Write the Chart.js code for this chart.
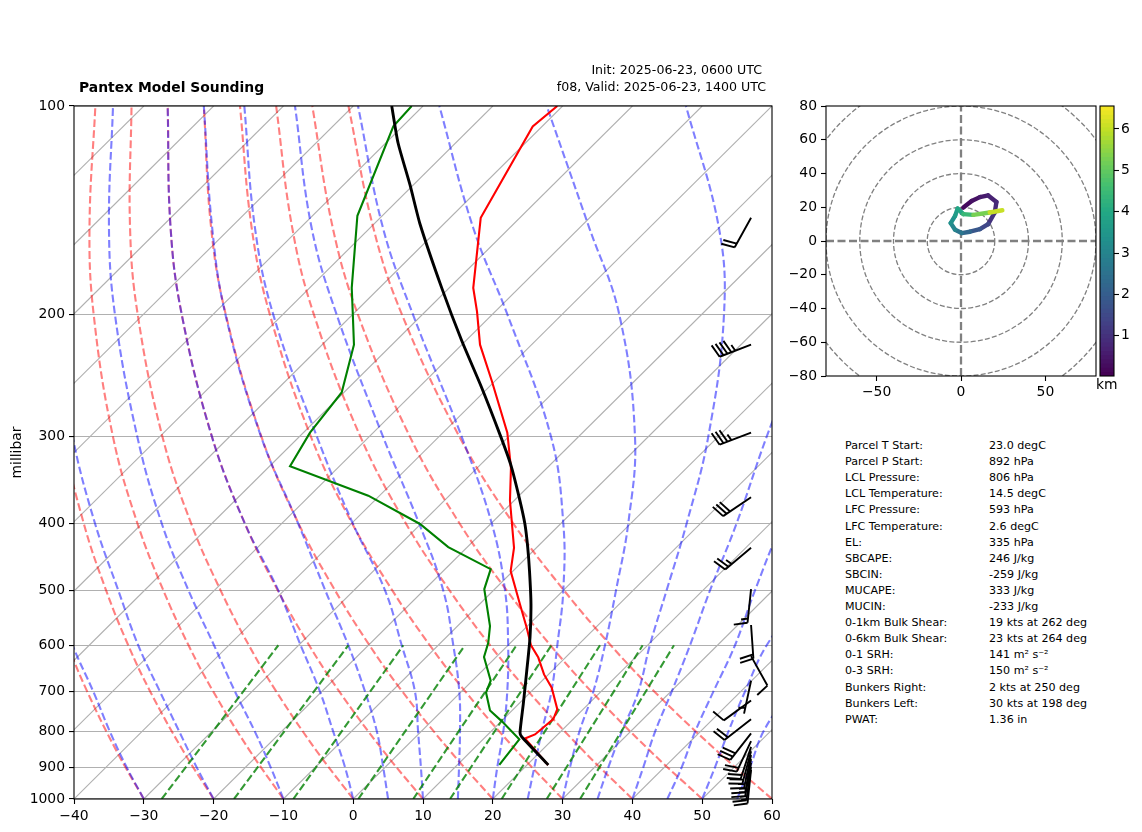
<!DOCTYPE html>
<html>
<head>
<meta charset="utf-8">
<title>Pantex Model Sounding</title>
<script src="https://cdn.jsdelivr.net/npm/chart.js@4/dist/chart.umd.min.js"></script>
<style>
  html, body { margin: 0; padding: 0; background: #fff; overflow: hidden; }
  body { width: 1142px; height: 832px; position: relative; font-family: "DejaVu Sans", sans-serif; color: #000; }
  canvas { position: absolute; }
  .txt { position: absolute; white-space: nowrap; line-height: 1; }
  #title { left: 79px; top: 81px; font-size: 13.9px; font-weight: bold; }
  #init { right: 380px; top: 64px; font-size: 12.6px; }
  #valid { right: 376px; top: 81px; font-size: 12.6px; }
  #km { left: 1096px; top: 378px; font-size: 13.9px; }
  .stat { font-size: 11.1px; }
</style>
</head>
<body>
<canvas id="skew" width="790" height="832" style="left:0;top:0"></canvas>
<canvas id="hodo" width="312" height="420" style="left:790px;top:0"></canvas>
<canvas id="cbar" width="47" height="420" style="left:1095px;top:0"></canvas>
<div class="txt" id="title">Pantex Model Sounding</div>
<div class="txt" id="init">Init: 2025-06-23, 0600 UTC</div>
<div class="txt" id="valid">f08, Valid: 2025-06-23, 1400 UTC</div>
<div class="txt" id="km">km</div>
<script>
// Axis ticks
const tempTicks = [-40, -30, -20, -10, 0, 10, 20, 30, 40, 50, 60];
const pressureTicks = [100, 200, 300, 400, 500, 600, 700, 800, 900, 1000];
const hodoXTicks = [-50, 0, 50];
const hodoYTicks = [-80, -60, -40, -20, 0, 20, 40, 60, 80];
const hodoRings = [20, 40, 60, 80, 100];
const cbarTicks = [1, 2, 3, 4, 5, 6];

const parcelP = [893, 813, 802, 729, 654, 585, 523, 469, 433, 401, 368, 329, 298, 255, 218, 183, 148, 130, 113, 100];
const parcelX = [27.95, 24.14, 23.9, 24.37, 24.86, 25.33, 25.47, 25.26, 25.0, 24.6, 23.8, 22.56, 21.03, 18.41, 15.54, 12.68, 9.57, 8.14, 6.42, 5.52];
const tempP = [893, 818, 807, 767, 742, 691, 661, 625, 600, 566, 524, 469, 434, 371, 333, 296, 249, 221, 198, 183, 145, 107, 100];
const tempX = [27.91, 24.61, 26.05, 28.67, 29.24, 28.44, 27.34, 26.52, 25.47, 24.86, 23.9, 22.56, 23.04, 22.46, 22.6, 22.08, 19.84, 18.17, 17.74, 17.2, 18.27, 25.72, 29.24];
const dewP = [893, 820, 772, 745, 702, 675, 624, 595, 563, 498, 466, 433, 401, 365, 331, 296, 259, 221, 198, 183, 144, 107, 100];
const dewX = [20.93, 23.8, 21.27, 19.6, 19.03, 19.7, 18.74, 19.35, 19.6, 18.78, 19.7, 13.62, 9.57, 2.16, -9.05, -6.19, -1.65, 0.11, -0.07, -0.21, 0.6, 5.75, 8.38];

// Isotherms, named by their temperature at 1000 hPa
const isothermBase = [-130, -120, -110, -100, -90, -80, -70, -60, -50, -40, -30, -20, -10, 0, 10, 20, 30, 40, 50];
const isothermShift = 100; // x axis degrees gained from 1000 to 100 hPa

// Dry adiabats
const dryLevels = [1000, 850, 700, 600, 500, 400, 300, 200, 150, 100];
const dryM30 = [-30, -33.98, -38.1, -40.87, -43.6, -46.3, -48.6, -49.8, -49.4, -47.3];
const dryM20 = [-20, -24.43, -29.07, -32.23, -35.4, -38.61, -41.51, -43.49, -43.59, -42.12];
const dryM10 = [-10, -14.88, -20.04, -23.59, -27.2, -30.92, -34.42, -37.18, -37.78, -36.94];
const dry0 = [0, -5.33, -11.01, -14.95, -19, -23.23, -27.33, -30.87, -31.97, -31.76];
const dry10 = [10, 4.22, -1.98, -6.31, -10.8, -15.54, -20.24, -24.56, -26.16, -26.58];
const dry20 = [20, 13.77, 7.05, 2.33, -2.6, -7.85, -13.15, -18.25, -20.35, -21.4];
const dry30 = [30, 23.32, 16.08, 10.97, 5.6, -0.16, -6.06, -11.94, -14.54, -16.22];
const dry40 = [40, 32.87, 25.11, 19.61, 13.8, 7.53, 1.03, -5.63, -8.73, -11.04];
const dry50 = [50, 42.42, 34.14, 28.25, 22, 15.22, 8.12, 0.68, -2.92, -5.86];
const dry60 = [60, 51.97, 43.17, 36.89, 30.2, 22.91, 15.21, 6.99, 2.89, -0.68];
const dryLines = [dryM30, dryM20, dryM10, dry0, dry10, dry20, dry30, dry40, dry50, dry60];

// Moist adiabats
const moistLevels = [1000, 900, 800, 700, 600, 500, 400, 300, 200, 150, 100];
const moistM30 = [-30, -32.45, -34.84, -37.23, -40.2, -43];
const moistM20 = [-20, -22.43, -24.9, -27.68, -30.8, -33.65, -37, -40.2, -43];
const moistM10 = [-10, -11.82, -14.07, -16.93, -19.94, -23.6, -27.44, -30.93, -34.13, -34.99, -34.41];
const moist0 = [0, -1.17, -2.85, -4.76, -7.53, -10.73, -15.54, -20.24, -24.56, -26.16, -26.58];
const moist5 = [5, 4.3, 3.4, 1.7, -0.7, -4, -7.9, -13.2, -18.3, -20.2, -21.4];
const moist10 = [10, 9.7, 9.3, 8.85, 6.95, 4.56, -0.07, -5.2, -11.45, -14.07, -15.6];
const moist15 = [15, 15.16, 15.3, 15.2, 14.34, 12.9, 9.43, 4.27, -2.37, -5.95, -8.34];
const moist20 = [20, 20.64, 21.5, 22.07, 22.2, 21.75, 19.84, 15.54, 8.57, 4.27, 0.69];
const moist25 = [25, 25.95, 27, 28.4, 29.24, 30.1, 30.1, 28.34, 22.1, 17.2, 12.34];
const moist30 = [30, 31.06, 32.4, 34.4, 36.07, 37.65, 39.41, 40.37, 38.12, 33.83, 27.72];
const moist35 = [35, 36.55, 38.47, 40.85, 42.5, 44.9, 47.78, 50.87, 53.12, 52.4, 47.68];
const moist40 = [40, 41.56, 43.24, 45.63, 48.25, 51.12, 54.94, 59.24, 66];
const moist45 = [45, 47.06, 48.97, 51.6, 54.7, 57.56, 61.5, 68];
const moist50 = [50, 51.83, 53.74, 56.13, 59.24, 65];
const moist55 = [55, 56.85, 58.75, 62.5];
const moistLines = [moistM30, moistM20, moistM10, moist0, moist5, moist10, moist15, moist20, moist25, moist30, moist35, moist40, moist45, moist50, moist55];

// Mixing ratio lines, from 1000 hPa up to 600 hPa
const mixBottom = [-27.44, -17.08, -8.58, 0.73, 8.6, 13.87, 21.27, 27.72, 32.5];
const mixTop = [-10.73, -0.7, 7.18, 16, 23.4, 28.4, 35.36, 41.47, 45.96];

// Wind barbs
const barbColumn = 57;
const barbP = [145, 221, 296, 367, 434, 498, 561, 622, 675, 721, 767, 804, 825, 841, 853, 864, 876, 887, 899, 908];
const barbSpeed = [20, 45, 35, 30, 25, 15, 20, 10, 5, 10, 20, 30, 20, 20, 20, 15, 15, 15, 15, 15];
const barbDir = [209, 249, 249, 236, 230, 186, 176, 151, 192, 234, 232, 218, 205, 198, 195, 192, 190, 190, 188, 186];

// Hodograph
const hodoU = [1.4, 6.3, 11.2, 16.1, 21, 20, 16.1, 11.2, 5.3, 0.4, -3.5, -6.1, -3.5, -2, 1.4, 7.3, 17, 24.5];
const hodoV = [19.8, 23.7, 26, 27, 23.1, 16.9, 10, 7, 5.5, 4.7, 6.7, 10.6, 14.9, 19.2, 15.9, 15.5, 16.9, 18.2];
const hodoKm = [0.05, 0.2, 0.35, 0.5, 0.65, 0.8, 1, 1.4, 1.8, 2.2, 2.6, 3, 3.3, 3.6, 3.9, 4.4, 5.2, 6];
const kmMin = 0.03;
const kmMax = 6.555;
const viridis = ["#440154", "#482475", "#414487", "#355f8d", "#2a788e", "#21918c", "#22a884", "#44bf70", "#7ad151", "#bddf26", "#fde725"];

// Parameter table
const statLabels = ["Parcel T Start:", "Parcel P Start:", "LCL Pressure:", "LCL Temperature:", "LFC Pressure:", "LFC Temperature:", "EL:", "SBCAPE:", "SBCIN:", "MUCAPE:", "MUCIN:", "0-1km Bulk Shear:", "0-6km Bulk Shear:", "0-1 SRH:", "0-3 SRH:", "Bunkers Right:", "Bunkers Left:", "PWAT:"];
const statValues = ["23.0 degC", "892 hPa", "806 hPa", "14.5 degC", "593 hPa", "2.6 degC", "335 hPa", "246 J/kg", "-259 J/kg", "333 J/kg", "-233 J/kg", "19 kts at 262 deg", "23 kts at 264 deg", "141 m² s⁻²", "150 m² s⁻²", "2 kts at 250 deg", "30 kts at 198 deg", "1.36 in"];

Chart.defaults.font.family = '"DejaVu Sans", sans-serif';
Chart.defaults.font.size = 13.9;
Chart.defaults.color = "#000";
Chart.defaults.animation = false;
Chart.defaults.responsive = false;
Chart.defaults.plugins.legend.display = false;
Chart.defaults.plugins.tooltip.enabled = false;

const minusSign = v => String(v).replace("-", "\u2212");

function zipLine(xs, ys) {
  return xs.map((x, i) => ({ x: x, y: ys[i] }));
}

function lineSet(points, color, width, dash, tension) {
  return {
    data: points,
    showLine: true,
    pointRadius: 0,
    borderColor: color,
    borderWidth: width,
    borderDash: dash || [],
    tension: tension || 0,
    fill: false,
  };
}

// Axes frame on top of everything
const frame = {
  id: "frame",
  afterDraw(chart) {
    const a = chart.chartArea, c = chart.ctx;
    c.save();
    c.strokeStyle = "#000";
    c.lineWidth = 1.1;
    c.strokeRect(a.left, a.top, a.right - a.left, a.bottom - a.top);
    c.restore();
  },
};

// Wind barbs, anchored through the chart scales
const barbs = {
  id: "barbs",
  afterDatasetsDraw(chart) {
    const c = chart.ctx, L = 33.7;
    const tipX = chart.scales.x.getPixelForValue(barbColumn);
    c.save();
    c.strokeStyle = "#000";
    c.lineWidth = 1.9;
    c.lineJoin = "miter";
    barbP.forEach((p, i) => {
      const tipY = chart.scales.y.getPixelForValue(p);
      const th = barbDir[i] * Math.PI / 180;
      const dx = Math.sin(th), dy = -Math.cos(th);
      const endX = tipX + dx * L, endY = tipY + dy * L;
      const fulls = Math.floor(barbSpeed[i] / 10);
      const half = barbSpeed[i] % 10 >= 5;
      c.beginPath();
      c.moveTo(tipX, tipY);
      c.lineTo(endX, endY);
      let off = fulls === 0 ? 1.5 * 0.125 * L : 0;
      for (let n = 0; n < fulls + (half ? 1 : 0); n++) {
        const size = n < fulls ? 1 : 0.5;
        const bx = endX - dx * off, by = endY - dy * off;
        c.moveTo(bx, by);
        c.lineTo(bx - dy * 0.4 * L * size + dx * 0.1 * L * size, by + dx * 0.4 * L * size + dy * 0.1 * L * size);
        off += 0.125 * L;
      }
      c.stroke();
    });
    c.restore();
  },
};

// Range rings on the hodograph
const rings = {
  id: "rings",
  beforeDatasetsDraw(chart) {
    const a = chart.chartArea, c = chart.ctx, sx = chart.scales.x, sy = chart.scales.y;
    c.save();
    c.beginPath();
    c.rect(a.left, a.top, a.right - a.left, a.bottom - a.top);
    c.clip();
    c.strokeStyle = "#808080";
    c.lineWidth = 1.3;
    c.setLineDash([5, 2.2]);
    hodoRings.forEach(r => {
      c.beginPath();
      c.arc(sx.getPixelForValue(0), sy.getPixelForValue(0), sx.getPixelForValue(r) - sx.getPixelForValue(0), 0, 2 * Math.PI);
      c.stroke();
    });
    c.restore();
  },
};

function viridisAt(km) {
  const t = Math.min(1, Math.max(0, (km - kmMin) / (kmMax - kmMin))) * (viridis.length - 1);
  const i = Math.min(viridis.length - 2, Math.floor(t));
  const hex = s => [1, 3, 5].map(k => parseInt(s.substr(k, 2), 16));
  const a = hex(viridis[i]), b = hex(viridis[i + 1]), f = t - i;
  return "rgb(" + a.map((v, k) => Math.round(v + (b[k] - v) * f)).join(",") + ")";
}

// Skew-T panel, first dataset ends up on top
const skewSets = [
  lineSet(zipLine(parcelX, parcelP), "#000", 2.9, [], 0.2),
  lineSet(zipLine(tempX, tempP), "#ff0000", 2.1),
  lineSet(zipLine(dewX, dewP), "#008000", 2.1),
];
mixBottom.forEach((b, i) => {
  skewSets.push(lineSet(zipLine([b, mixTop[i]], [1000, 600]), "rgba(0,128,0,0.8)", 2.1, [7.7, 3.3]));
});
moistLines.forEach(xs => {
  skewSets.push(lineSet(zipLine(xs, moistLevels), "rgba(0,0,255,0.5)", 2.1, [7.7, 3.3], 0.4));
});
dryLines.forEach(xs => {
  skewSets.push(lineSet(zipLine(xs, dryLevels), "rgba(255,0,0,0.5)", 2.1, [7.7, 3.3], 0.4));
});
isothermBase.forEach(t => {
  skewSets.push(lineSet(zipLine([t, t + isothermShift], [1000, 100]), "#b0b0b0", 1.1));
});

new Chart(document.getElementById("skew"), {
  type: "scatter",
  data: { datasets: skewSets },
  plugins: [barbs, frame],
  options: {
    layout: { padding: { top: 106, right: 18, left: 0, bottom: 0 } },
    scales: {
      x: {
        type: "linear",
        min: -40,
        max: 60,
        afterFit: s => { s.height = 33; },
        afterBuildTicks: s => { s.ticks = tempTicks.map(v => ({ value: v })); },
        grid: { drawOnChartArea: false, tickColor: "#000", tickLength: 5, tickWidth: 1.1 },
        border: { display: false },
        ticks: { callback: minusSign, padding: 4, maxRotation: 0, autoSkip: false },
      },
      y: {
        type: "logarithmic",
        reverse: true,
        min: 100,
        max: 1000,
        afterFit: s => { s.width = 74; },
        afterBuildTicks: s => { s.ticks = pressureTicks.map(v => ({ value: v })); },
        grid: { color: "#b0b0b0", lineWidth: 1.1, tickColor: "#000", tickLength: 5, tickWidth: 1.1 },
        border: { display: false },
        ticks: { callback: v => String(v), padding: 4, autoSkip: false },
        title: { display: true, text: "millibar", padding: { top: 9, bottom: 0 } },
      },
    },
  },
});

// Hodograph panel
const hodoPoints = zipLine(hodoU, hodoV);
new Chart(document.getElementById("hodo"), {
  type: "scatter",
  data: {
    datasets: [
      Object.assign(lineSet(hodoPoints, viridis[0], 4.4), {
        borderCapStyle: "round",
        segment: { borderColor: c => viridisAt(hodoKm[c.p1DataIndex]) },
      }),
      lineSet(zipLine([-80, 80], [0, 0]), "#808080", 2.3, [8, 3.5]),
      lineSet(zipLine([0, 0], [-80, 80]), "#808080", 2.3, [8, 3.5]),
    ],
  },
  plugins: [rings, frame],
  options: {
    layout: { padding: { top: 106, right: 6, left: 0, bottom: 0 } },
    scales: {
      x: {
        type: "linear",
        min: -80,
        max: 80,
        afterFit: s => { s.height = 44; },
        afterBuildTicks: s => { s.ticks = hodoXTicks.map(v => ({ value: v })); },
        grid: { drawOnChartArea: false, tickColor: "#000", tickLength: 5, tickWidth: 1.1 },
        border: { display: false },
        ticks: { callback: minusSign, padding: 3, maxRotation: 0, autoSkip: false },
      },
      y: {
        type: "linear",
        min: -80,
        max: 80,
        afterFit: s => { s.width = 36; },
        afterBuildTicks: s => { s.ticks = hodoYTicks.map(v => ({ value: v })); },
        grid: { drawOnChartArea: false, tickColor: "#000", tickLength: 5, tickWidth: 1.1 },
        border: { display: false },
        ticks: { callback: minusSign, padding: 4, autoSkip: false },
      },
    },
  },
});

// Colour bar as stacked slices on a height axis
const barSlices = [];
const sliceCount = 64;
for (let i = 0; i < sliceCount; i++) {
  const lo = kmMin + (kmMax - kmMin) * i / sliceCount;
  const hi = kmMin + (kmMax - kmMin) * (i + 1.3) / sliceCount;
  barSlices.push({
    data: [[lo, Math.min(hi, kmMax)]],
    backgroundColor: viridisAt(lo),
    barPercentage: 1,
    categoryPercentage: 1,
  });
}
new Chart(document.getElementById("cbar"), {
  type: "bar",
  data: { labels: ["km"], datasets: barSlices.reverse() },
  plugins: [frame],
  options: {
    layout: { padding: { top: 106, right: 0, left: 5, bottom: 44 } },
    scales: {
      x: { display: false, stacked: true },
      y: {
        position: "right",
        min: kmMin,
        max: kmMax,
        afterFit: s => { s.width = 28; },
        afterBuildTicks: s => { s.ticks = cbarTicks.map(v => ({ value: v })); },
        grid: { drawOnChartArea: false, tickColor: "#000", tickLength: 5, tickWidth: 1.1 },
        border: { display: false },
        ticks: { callback: v => String(v), padding: 2, autoSkip: false },
      },
    },
  },
});

// Parameter table as real text
statLabels.forEach((label, i) => {
  const top = 440 + i * 16.1;
  [[label, 845], [statValues[i], 989]].forEach(([text, left]) => {
    const el = document.createElement("div");
    el.className = "txt stat";
    el.textContent = text;
    el.style.left = left + "px";
    el.style.top = top + "px";
    document.body.appendChild(el);
  });
});
</script>
</body>
</html>
